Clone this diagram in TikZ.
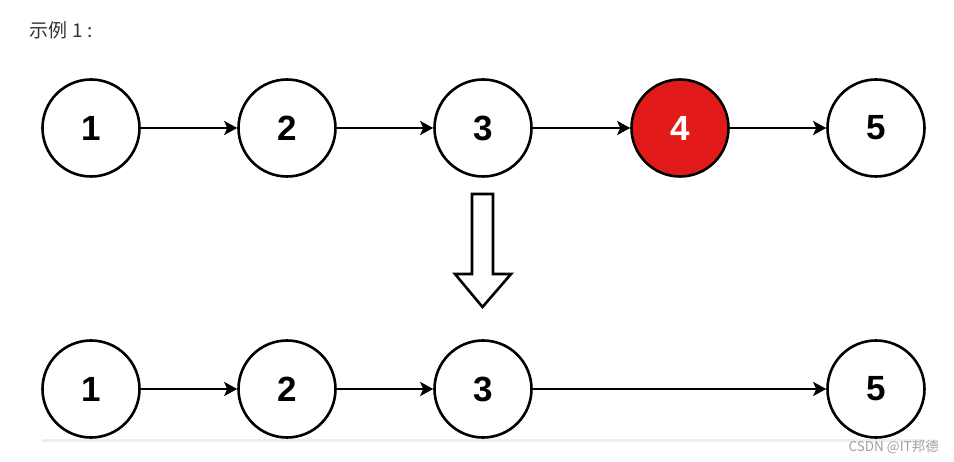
\documentclass[tikz,border=0pt]{standalone}
\usepackage{fontspec}
\setmainfont{Liberation Sans}
\newfontfamily\cjk{Noto Sans CJK SC}
\usetikzlibrary{arrows.meta}
\definecolor{nodered}{RGB}{226,26,26}
\definecolor{titlegray}{RGB}{51,51,51}
\definecolor{markgray}{RGB}{160,160,160}
\definecolor{rulegray}{RGB}{238,238,238}
\begin{document}
\begin{tikzpicture}[x=1pt,y=-1pt,
  listnode/.style={circle,draw=black,line width=2.6pt,fill=white,inner sep=0pt,minimum size=97pt,
    font=\fontsize{35}{35}\selectfont\bfseries},
  rednode/.style={listnode,fill=nodered,text=white},
  link/.style={line width=2.6pt,-{Stealth[length=13pt,width=14pt,inset=3pt]}},
  hollow/.style={line width=2.6pt,draw=black,fill=white,line join=miter}]
\useasboundingbox (0,0) rectangle (954,462);
\node[anchor=west,text=titlegray,font=\cjk\fontsize{19}{19}\selectfont,inner sep=0pt] (title) at (29,30) {示例\hspace{5pt}1\hspace{5pt}:};
% top row
\node[listnode] (a1) at (91,128) {1};
\node[listnode] (a2) at (287,128) {2};
\node[listnode] (a3) at (483,128) {3};
\node[rednode]  (a4) at (680,128) {4};
\node[listnode] (a5) at (876,128) {5};
\draw[link] (a1) -- (a2);
\draw[link] (a2) -- (a3);
\draw[link] (a3) -- (a4);
\draw[link] (a4) -- (a5);
% hollow down arrow
\draw[hollow] (472,194) -- (493,194) -- (493,274) -- (511,274) -- (482.5,307) -- (455,274) -- (472,274) -- cycle;
% bottom rule
\draw[rulegray,line width=3pt] (42,441) -- (925,441);
% bottom row
\node[listnode] (b1) at (91,389) {1};
\node[listnode] (b2) at (287,389) {2};
\node[listnode] (b3) at (483,389) {3};
\node[listnode] (b5) at (876,389) {5};
\draw[link] (b1) -- (b2);
\draw[link] (b2) -- (b3);
\draw[link] (b3) -- (b5);
% watermark
\node[anchor=east,text=markgray,font=\cjk\fontsize{13.5}{13.5}\selectfont,inner sep=0pt] (mark) at (939,447) {CSDN @IT邦德};
\end{tikzpicture}
\end{document}
